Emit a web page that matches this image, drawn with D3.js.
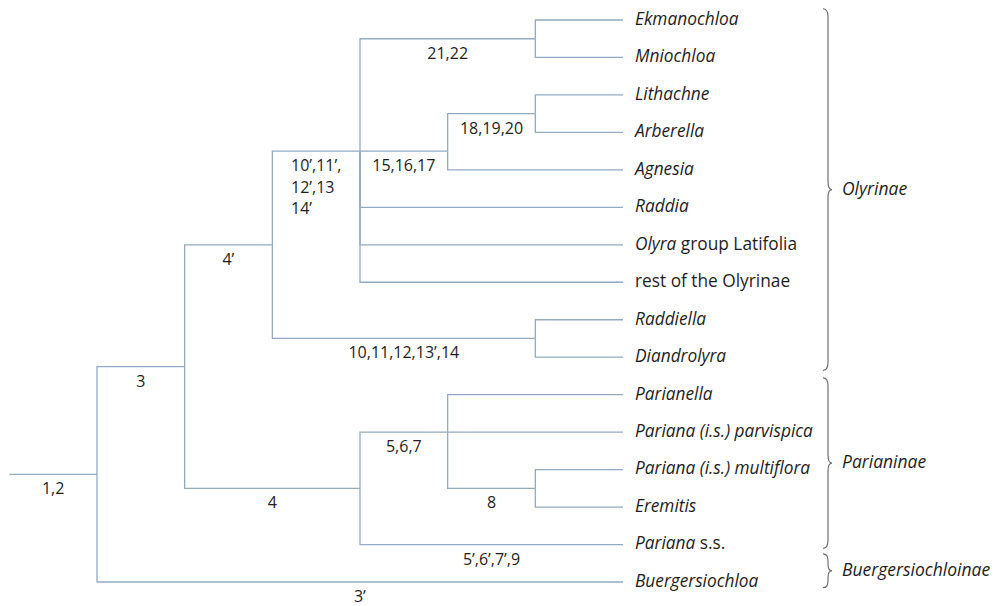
<!DOCTYPE html>
<html>
<head>
<meta charset="utf-8">
<script src="https://cdn.jsdelivr.net/npm/d3@7"></script>
<style>
  body { margin: 0; background: #fff; }
  svg { display: block; font-family: "Open Sans", Lato, sans-serif; }
</style>
</head>
<body>
<svg id="tree" width="1003" height="606"></svg>
<script>
// leaf taxa, top to bottom (*...* = italic part)
var taxa = [
  "*Ekmanochloa*", "*Mniochloa*", "*Lithachne*", "*Arberella*", "*Agnesia*",
  "*Raddia*", "*Olyra* group Latifolia", "rest of the Olyrinae",
  "*Raddiella*", "*Diandrolyra*", "*Parianella*", "*Pariana (i.s.) parvispica*",
  "*Pariana (i.s.) multiflora*", "*Eremitis*", "*Pariana* s.s.", "*Buergersiochloa*"
];

// clade structure: [node, parent]
var links = [
  ["A", null],
  ["B", "A"], ["Buergersiochloa", "A"],
  ["C", "B"], ["D", "B"],
  ["E", "C"], ["F", "C"],
  ["G", "E"], ["H", "E"], ["Raddia", "E"], ["Olyra group Latifolia", "E"], ["rest of the Olyrinae", "E"],
  ["Ekmanochloa", "G"], ["Mniochloa", "G"],
  ["I", "H"], ["Agnesia", "H"],
  ["Lithachne", "I"], ["Arberella", "I"],
  ["Raddiella", "F"], ["Diandrolyra", "F"],
  ["J", "D"], ["Pariana s.s.", "D"],
  ["Parianella", "J"], ["Pariana (i.s.) parvispica", "J"], ["K", "J"],
  ["Pariana (i.s.) multiflora", "K"], ["Eremitis", "K"]
];

// nodes not drawn at the middle of their children
var alignTo = { "E": "H", "J": "Pariana (i.s.) parvispica" };
var fixedRow = { "H": 3.5 };

// character states on the branch leading to each node ("|" = line break)
var characters = [
  ["A", "1,2"], ["B", "3"], ["Buergersiochloa", "3’"],
  ["C", "4’"], ["D", "4"],
  ["E", "10’,11’,|12’,13|14’"], ["F", "10,11,12,13’,14"],
  ["G", "21,22"], ["H", "15,16,17"], ["I", "18,19,20"],
  ["J", "5,6,7"], ["K", "8"], ["Pariana s.s.", "5’,6’,7’,9"]
];

// subtribes, with their span in leaf rows
var subtribes = ["Olyrinae", "Parianinae", "Buergersiochloinae"];
var subtribeRows = [[-0.3, 9.35], [9.55, 14.1], [14.25, 15.15]];

var plain = function(s) { return s.replace(/\*/g, ""); };
var leafIds = taxa.map(plain);

var svg = d3.select("svg#tree");
var lineColor = "#93aac5";

var root = d3.stratify()
  .id(function(d) { return d[0]; })
  .parentId(function(d) { return d[1]; })(links);

var xScale = d3.scaleLinear().domain([0, 6]).range([623, 97]);
var yScale = d3.scaleLinear().domain([0, leafIds.length - 1]).range([20, 582]);

// vertical position: leaves by row, clades from their children
root.eachAfter(function(n) {
  n.px = xScale(n.height);
  if (!n.children) {
    n.py = yScale(leafIds.indexOf(n.id));
  } else if (fixedRow[n.id] !== undefined) {
    n.py = yScale(fixedRow[n.id]);
  } else if (alignTo[n.id]) {
    n.py = n.children.find(function(c) { return c.id === alignTo[n.id]; }).py;
  } else {
    n.py = (n.children[0].py + n.children[n.children.length - 1].py) / 2;
  }
});

var stemX = xScale(7);

var branches = svg.append("g")
  .attr("fill", "none")
  .attr("stroke", lineColor)
  .attr("stroke-width", 1.3);

branches.append("path")
  .attr("d", "M" + stemX + "," + root.py + "H" + root.px);

branches.selectAll("path.link")
  .data(root.links())
  .join("path")
  .classed("link", true)
  .attr("d", function(l) {
    return "M" + l.source.px + "," + l.source.py + "V" + l.target.py + "H" + l.target.px;
  });

// leaf labels
var leafText = svg.append("g")
  .attr("font-size", 17.3)
  .attr("fill", "#1e1e1e")
  .selectAll("text")
  .data(root.leaves())
  .join("text")
  .attr("x", function(d) { return d.px + 12; })
  .attr("y", function(d) { return d.py; })
  .attr("dy", "0.28em");

leafText.each(function(d) {
  var label = taxa[leafIds.indexOf(d.id)];
  var parts = label.split("*");
  var t = d3.select(this);
  parts.forEach(function(p, i) {
    if (p === "") return;
    t.append("tspan")
      .attr("font-style", i % 2 === 1 ? "italic" : "normal")
      .text(p);
  });
});

// character state labels, centred under each branch
var byId = {};
root.each(function(n) { byId[n.id] = n; });

var charGroup = svg.append("g")
  .attr("font-size", 16)
  .attr("fill", "#1e1e1e");

characters.forEach(function(c) {
  var node = byId[c[0]];
  var x0 = node.parent ? node.parent.px : stemX;
  var mid = (x0 + node.px) / 2;
  var text = charGroup.append("text")
    .attr("y", node.py + 20);
  c[1].split("|").forEach(function(line, i) {
    text.append("tspan")
      .attr("x", 0)
      .attr("dy", i === 0 ? 0 : 21.5)
      .text(line);
  });
  var w = text.node().getBBox().width;
  text.selectAll("tspan").attr("x", mid - w / 2);
});

// subtribe braces
var braceX = 828;
var braceGroup = svg.append("g");

subtribes.forEach(function(name, i) {
  var top = yScale(subtribeRows[i][0]);
  var bottom = yScale(subtribeRows[i][1]);
  var tip = (top + bottom) / 2;
  var r = Math.min(8, (bottom - top) / 5);
  var path = d3.path();
  path.moveTo(braceX - 5, top);
  path.quadraticCurveTo(braceX, top, braceX, top + r);
  path.lineTo(braceX, tip - r);
  path.quadraticCurveTo(braceX, tip, braceX + 4, tip);
  path.quadraticCurveTo(braceX, tip, braceX, tip + r);
  path.lineTo(braceX, bottom - r);
  path.quadraticCurveTo(braceX, bottom, braceX - 5, bottom);
  braceGroup.append("path")
    .attr("d", path.toString())
    .attr("fill", "none")
    .attr("stroke", "#6e6e6e")
    .attr("stroke-width", 1.2);
  braceGroup.append("text")
    .attr("x", braceX + 14)
    .attr("y", tip)
    .attr("dy", "0.3em")
    .attr("font-size", 17.5)
    .attr("font-style", "italic")
    .attr("fill", "#1e1e1e")
    .text(name);
});
</script>
</body>
</html>
